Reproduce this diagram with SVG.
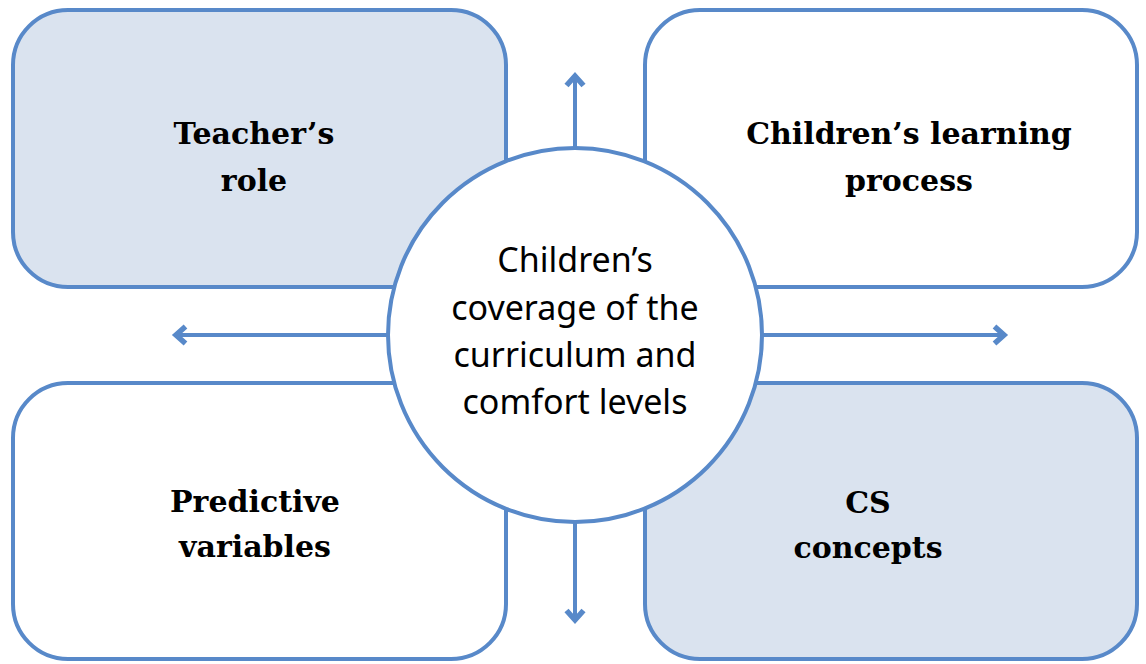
<svg xmlns="http://www.w3.org/2000/svg" width="1146" height="664" viewBox="0 0 1146 664">
  <defs>
    <style>
      .box { stroke: #5889c9; stroke-width: 4; }
      .shaded { fill: #dae3ef; }
      .plain { fill: #ffffff; }
      .hub { fill: #ffffff; stroke: #5889c9; stroke-width: 4; }
      .label { font-family: "DejaVu Serif", "Liberation Serif", serif; font-weight: bold; font-size: 30px; fill: #000000; text-anchor: middle; }
      .hubtext { font-family: "Noto Sans", "Open Sans", sans-serif; font-size: 34px; fill: #000000; text-anchor: middle; }
      .link { fill: none; stroke: #5889c9; stroke-width: 4; marker-end: url(#chevron); }
    </style>
    <marker id="chevron" viewBox="0 0 24 24" refX="20" refY="12" markerWidth="24" markerHeight="24" markerUnits="userSpaceOnUse" orient="auto">
      <path d="M9.5,3.5 L19,12 L9.5,20.5" fill="none" stroke="#5889c9" stroke-width="5.5" stroke-linejoin="miter" stroke-miterlimit="10"/>
    </marker>
  </defs>

  <rect width="1146" height="664" fill="#ffffff"/>

  <g id="teachers-role">
    <rect class="box shaded" x="13" y="10" width="493" height="277" rx="55" ry="55"/>
    <text class="label" x="254" y="144">Teacher’s</text>
    <text class="label" x="254" y="191">role</text>
  </g>

  <g id="learning-process">
    <rect class="box plain" x="645" y="10" width="492" height="277" rx="55" ry="55"/>
    <text class="label" x="909" y="144">Children’s learning</text>
    <text class="label" x="909" y="191">process</text>
  </g>

  <g id="predictive-variables">
    <rect class="box plain" x="13" y="383" width="493" height="276" rx="55" ry="55"/>
    <text class="label" x="255" y="512">Predictive</text>
    <text class="label" x="255" y="557">variables</text>
  </g>

  <g id="cs-concepts">
    <rect class="box shaded" x="645" y="383" width="492" height="276" rx="55" ry="55"/>
    <text class="label" x="868" y="513">CS</text>
    <text class="label" x="868" y="558">concepts</text>
  </g>

  <g id="coverage">
    <circle class="hub" cx="575" cy="335" r="187"/>
    <text class="hubtext" x="575" y="272">Children’s</text>
    <text class="hubtext" x="575" y="320">coverage of the</text>
    <text class="hubtext" x="575" y="367">curriculum and</text>
    <text class="hubtext" x="575" y="414">comfort levels</text>
  </g>

  <g id="connectors">
    <line class="link" x1="575" y1="148" x2="575" y2="75"/>
    <line class="link" x1="388" y1="335" x2="175" y2="335"/>
    <line class="link" x1="762" y1="335" x2="1005" y2="335"/>
    <line class="link" x1="575" y1="522" x2="575" y2="621"/>
  </g>
</svg>
